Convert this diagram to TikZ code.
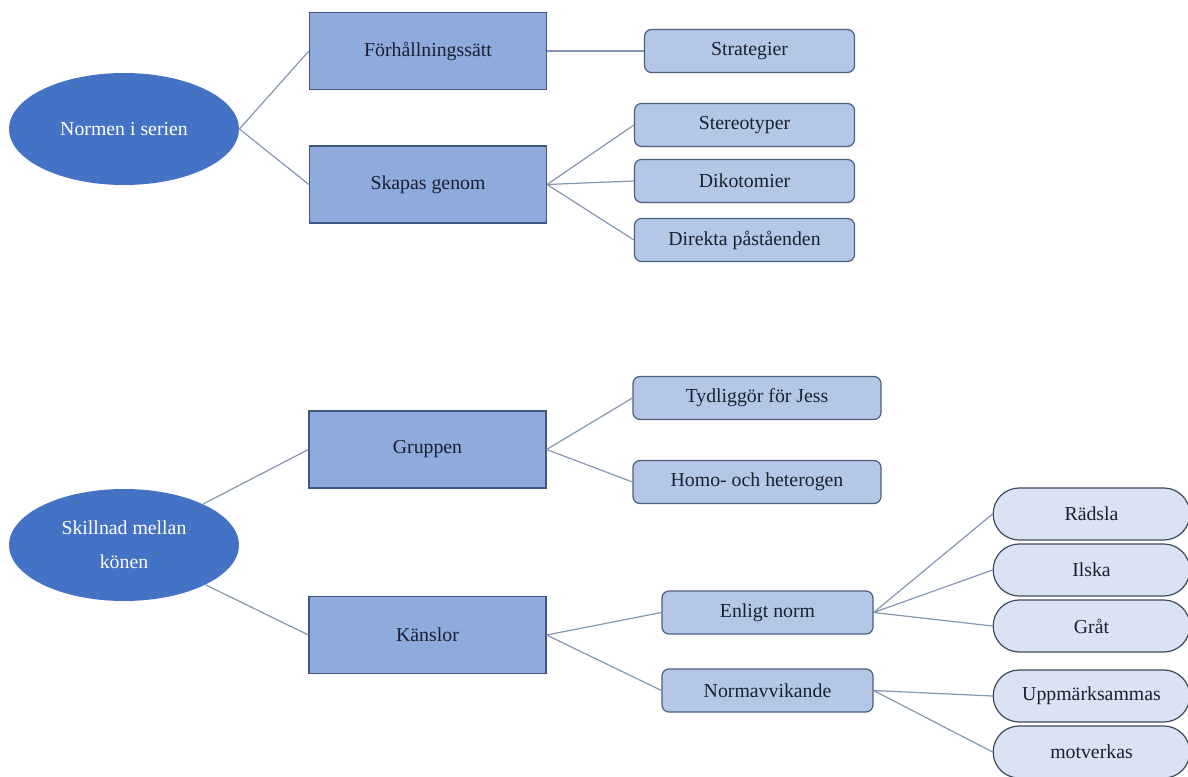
\documentclass[tikz,border=0pt]{standalone}
\usepackage{fontspec}
\setmainfont{Liberation Serif}
\usepackage{tikz}
\usetikzlibrary{shapes.geometric,shapes.misc}

\definecolor{ovalblue}{HTML}{4472C4}
\definecolor{mainfill}{HTML}{8FAADC}
\definecolor{mainedge}{HTML}{3F5680}
\definecolor{subfill}{HTML}{B4C7E7}
\definecolor{subedge}{HTML}{4C5F7F}
\definecolor{pillfill}{HTML}{DAE3F3}
\definecolor{pilledge}{HTML}{3E4B5E}
\definecolor{linkcol}{HTML}{8497B0}
\definecolor{inkcol}{HTML}{1B2030}

\begin{document}
\begin{tikzpicture}[node distance=28pt,
    every node/.style={font=\fontsize{9.9}{17}\selectfont, text=inkcol, align=center},
    oval/.style={ellipse, fill=ovalblue, text=white, minimum width=115pt, minimum height=56pt, inner sep=0pt},
    mainbox/.style={rectangle, draw=mainedge, fill=mainfill, line width=0.6pt, minimum width=118.5pt, minimum height=38.5pt},
    subbox/.style={rectangle, rounded corners=3.5pt, draw=subedge, fill=subfill, line width=0.6pt, minimum height=21.5pt},
    pill/.style={rounded rectangle, draw=pilledge, fill=pillfill, line width=0.6pt, minimum width=105pt, minimum height=26pt},
    link/.style={draw=linkcol, line width=0.6pt}]
        \useasboundingbox (-62pt,64.5pt) rectangle (532pt,-323.5pt);

        % Normen i serien
        \node [oval] (1) {Normen i serien};
        \node [mainbox, right of=1, xshift=124pt, yshift=39pt] (2) {Förhållningssätt};
        \node [mainbox, below of=2, yshift=-38.75pt] (3) {Skapas genom};
        \node [subbox, minimum width=105pt, right of=2, xshift=132.75pt] (4) {Strategier};
        \node [subbox, minimum width=110pt, right of=3, xshift=130.25pt, yshift=29.75pt] (5) {Stereotyper};
        \node [subbox, minimum width=110pt, below of=5] (6) {Dikotomier};
        \node [subbox, minimum width=110pt, below of=6, yshift=-1.5pt] (7) {Direkta påståenden};

        \draw[link] (1.east) -- (2.west);
        \draw[link] (1.east) -- (3.west);
        \draw[link] (2.east) -- (4.west);
        \draw[link] (3.east) -- (5.west);
        \draw[link] (3.east) -- (6.west);
        \draw[link] (3.east) -- (7.west);

        % Skillnad mellan könen
        \node [oval, below of=1, yshift=-180pt] (8) {Skillnad mellan\\könen};
        \node [mainbox, right of=8, xshift=123.75pt, yshift=47.75pt] (9) {Gruppen};
        \node [mainbox, below of=9, yshift=-64.75pt] (10) {Känslor};
        \node [subbox, minimum width=124pt, right of=9, xshift=136.75pt, yshift=25.75pt] (11) {Tydliggör för Jess};
        \node [subbox, minimum width=124pt, below of=11, yshift=-14pt] (12) {Homo- och heterogen};
        \node [subbox, minimum width=105.5pt, right of=10, xshift=142pt, yshift=11.25pt] (13) {Enligt norm};
        \node [subbox, minimum width=105.5pt, below of=13, yshift=-11pt] (14) {Normavvikande};
        \node [pill, right of=13, xshift=134pt, yshift=49.25pt] (15) {Rädsla};
        \node [pill, below of=15] (16) {Ilska};
        \node [pill, below of=16] (17) {Gråt};
        \node [pill, below of=17, yshift=-7pt] (18) {Uppmärksammas};
        \node [pill, below of=18] (19) {motverkas};

        \draw[link] (8) -- (9.west);
        \draw[link] (8) -- (10.west);
        \draw[link] (9.east) -- (11.west);
        \draw[link] (9.east) -- (12.west);
        \draw[link] (10.east) -- (13.west);
        \draw[link] (10.east) -- (14.west);
        \draw[link] (13.east) -- (15.west);
        \draw[link] (13.east) -- (16.west);
        \draw[link] (13.east) -- (17.west);
        \draw[link] (14.east) -- (18.west);
        \draw[link] (14.east) -- (19.west);
      \end{tikzpicture}
\end{document}
